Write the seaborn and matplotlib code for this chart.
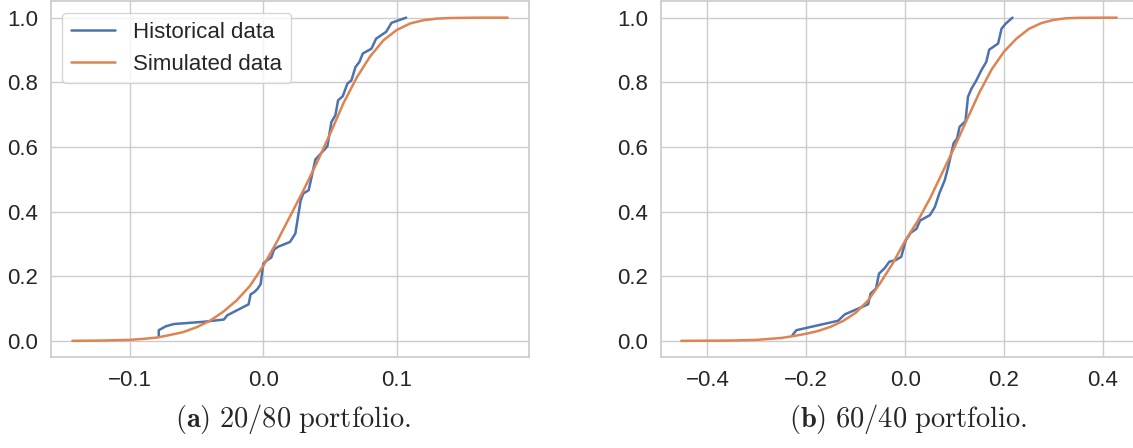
import matplotlib
matplotlib.use("Agg")
import matplotlib.pyplot as plt
import pandas as pd
import seaborn as sns

# Empirical CDF of historical returns, 20/80 portfolio
hist_a_x = [-0.0783, -0.0783, -0.073, -0.067, -0.0445, -0.0295, -0.027, -0.0195,
            -0.011, -0.0095, -0.007, -0.0045, -0.002, 0.0, 0.002, 0.006, 0.008,
            0.011, 0.020, 0.024, 0.028, 0.030, 0.034, 0.039, 0.043, 0.048, 0.051,
            0.054, 0.056, 0.0595, 0.063, 0.066, 0.069, 0.072, 0.0745, 0.081,
            0.0845, 0.092, 0.096, 0.107]
hist_a_cdf = [0.014, 0.033, 0.045, 0.052, 0.059, 0.066, 0.079, 0.095, 0.113,
              0.144, 0.150, 0.160, 0.175, 0.239, 0.247, 0.258, 0.282, 0.291,
              0.306, 0.332, 0.435, 0.456, 0.466, 0.561, 0.579, 0.602, 0.677,
              0.698, 0.744, 0.757, 0.796, 0.806, 0.847, 0.863, 0.889, 0.904,
              0.935, 0.956, 0.984, 1.0]

# CDF of simulated returns, 20/80 portfolio
sim_a_x = [-0.143, -0.12, -0.11, -0.10, -0.09, -0.08, -0.07, -0.06, -0.05,
           -0.04, -0.03, -0.02, -0.01, 0.0, 0.01, 0.02, 0.03, 0.04, 0.05,
           0.06, 0.07, 0.08, 0.09, 0.10, 0.11, 0.12, 0.13, 0.14, 0.16, 0.183]
sim_a_cdf = [0.0, 0.001, 0.002, 0.003, 0.006, 0.010, 0.018, 0.027, 0.042,
             0.062, 0.090, 0.125, 0.170, 0.232, 0.305, 0.385, 0.465, 0.550,
             0.640, 0.735, 0.815, 0.880, 0.930, 0.962, 0.982, 0.992, 0.997,
             0.999, 1.0, 1.0]

# Empirical CDF of historical returns, 60/40 portfolio
hist_b_x = [-0.228, -0.220, -0.197, -0.136, -0.122, -0.075, -0.070, -0.059,
            -0.053, -0.042, -0.032, -0.019, -0.008, 0.001, 0.011, 0.023, 0.030,
            0.050, 0.060, 0.069, 0.080, 0.087, 0.098, 0.105, 0.110, 0.122,
            0.127, 0.134, 0.144, 0.154, 0.164, 0.170, 0.188, 0.195, 0.203, 0.217]
hist_b_cdf = [0.018, 0.033, 0.041, 0.062, 0.082, 0.113, 0.146, 0.162, 0.208,
              0.224, 0.245, 0.250, 0.260, 0.310, 0.334, 0.347, 0.372, 0.389,
              0.414, 0.456, 0.497, 0.538, 0.612, 0.626, 0.662, 0.680, 0.755,
              0.780, 0.806, 0.837, 0.863, 0.901, 0.920, 0.966, 0.981, 1.0]

# CDF of simulated returns, 60/40 portfolio
sim_b_x = [-0.453, -0.40, -0.35, -0.30, -0.25, -0.225, -0.20, -0.175, -0.15,
           -0.125, -0.10, -0.075, -0.05, -0.025, 0.0, 0.025, 0.05, 0.075,
           0.10, 0.125, 0.15, 0.175, 0.20, 0.225, 0.25, 0.275, 0.30, 0.325,
           0.35, 0.40, 0.428]
sim_b_cdf = [0.0, 0.0005, 0.001, 0.003, 0.009, 0.015, 0.022, 0.031, 0.044,
             0.062, 0.087, 0.125, 0.180, 0.240, 0.310, 0.370, 0.440, 0.520,
             0.600, 0.685, 0.768, 0.840, 0.895, 0.935, 0.965, 0.983, 0.993,
             0.998, 0.9995, 1.0, 1.0]

xticks_a = [-0.1, 0.0, 0.1]
xticks_b = [-0.4, -0.2, 0.0, 0.2, 0.4]
yticks = [0.0, 0.2, 0.4, 0.6, 0.8, 1.0]
captions = [r"$\mathbf{(a)}\ \mathrm{20/80\ portfolio.}$",
            r"$\mathbf{(b)}\ \mathrm{60/40\ portfolio.}$"]

sns.set_theme(style="whitegrid")
plt.rcParams["font.family"] = ["Liberation Sans", "DejaVu Sans"]

blue, orange = sns.color_palette("deep")[:2]

fig = plt.figure(figsize=(11.33, 4.48), dpi=100)
ax_a = fig.add_axes([51 / 1133, 91 / 448, 478 / 1133, 355.5 / 448])
ax_b = fig.add_axes([661 / 1133, 91 / 448, 478 / 1133, 355.5 / 448])

panels = [
    (ax_a, hist_a_x, hist_a_cdf, sim_a_x, sim_a_cdf, xticks_a),
    (ax_b, hist_b_x, hist_b_cdf, sim_b_x, sim_b_cdf, xticks_b),
]

for ax, hx, hy, sx, sy, xt in panels:
    hist = pd.DataFrame({"x": hx, "cdf": hy})
    sim = pd.DataFrame({"x": sx, "cdf": sy})
    sns.lineplot(data=hist, x="x", y="cdf", ax=ax, color=blue, lw=1.8,
                 estimator=None, sort=False, label="Historical data")
    sns.lineplot(data=sim, x="x", y="cdf", ax=ax, color=orange, lw=1.8,
                 estimator=None, sort=False, label="Simulated data")
    ax.set_xticks(xt)
    ax.set_yticks(yticks)
    ax.set_xlabel("")
    ax.set_ylabel("")
    ax.tick_params(labelsize=16)
    for s in ax.spines.values():
        s.set_color("0.8")

ax_a.set_ylim(-0.05, 1.05)
ax_b.set_ylim(-0.05, 1.05)
ax_a.set_xlim(-0.159, 0.199)
ax_b.set_xlim(-0.494, 0.473)

ax_a.legend(loc="upper left", fontsize=16)
ax_b.get_legend().remove()

fig.text(293 / 1133, 1 - 419 / 448, captions[0], ha="center", va="center",
         fontsize=20.5, math_fontfamily="cm")
fig.text(908 / 1133, 1 - 419 / 448, captions[1], ha="center", va="center",
         fontsize=20.5, math_fontfamily="cm")

fig.savefig("out.png", dpi=100)
